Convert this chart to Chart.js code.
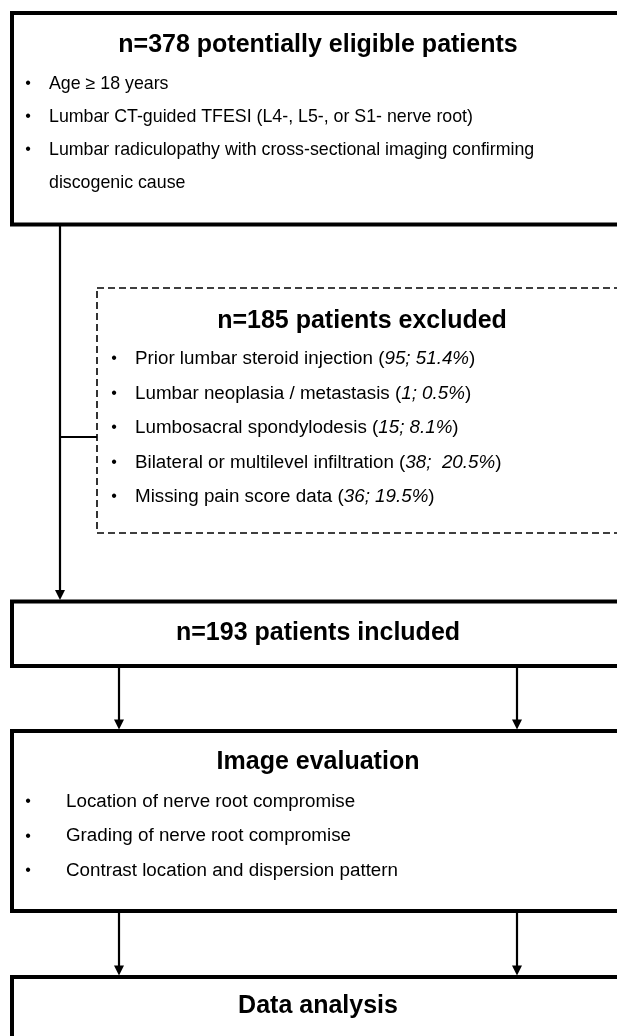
<!DOCTYPE html>
<html>
<head>
<meta charset="utf-8">
<script src="https://cdn.jsdelivr.net/npm/chart.js@4.4.0/dist/chart.umd.min.js"></script>
<style>
html, body { margin: 0; padding: 0; background: #fff; }
#wrap { width: 617px; height: 1036px; }
</style>
</head>
<body>
<div id="wrap"><canvas id="flowChart" width="617" height="1036"></canvas></div>
<script>
// --- Flow data ---
const eligibleCount = 378;
const excludedCount = 185;
const includedCount = 193;

const eligibleCriteria = [
    "Age ≥ 18 years",
    "Lumbar CT-guided TFESI (L4-, L5-, or S1- nerve root)",
    "Lumbar radiculopathy with cross-sectional imaging confirming discogenic cause"
];

const exclusionReasons = [
    "Prior lumbar steroid injection",
    "Lumbar neoplasia / metastasis",
    "Lumbosacral spondylodesis",
    "Bilateral or multilevel infiltration",
    "Missing pain score data"
];
const exclusionCounts = [95, 1, 15, 38, 36];
const exclusionPercents = ["51.4%", "0.5%", "8.1%", " 20.5%", "19.5%"];

const evaluationTitle = "Image evaluation";
const evaluationItems = [
    "Location of nerve root compromise",
    "Grading of nerve root compromise",
    "Contrast location and dispersion pattern"
];
const analysisTitle = "Data analysis";

// --- Layout (page units, mapped through the chart scales) ---
const layout = {
    eligible:  {x0: 12, x1: 624, y0: 13,    y1: 224.5, titleY: 45,  firstY: 84,  step: 33,   bulletX: 28,  textX: 49,
                size: 17.8, wrap: 560},
    excluded:  {x0: 97, x1: 627, y0: 288,   y1: 533,   titleY: 321, firstY: 359, step: 34.5, bulletX: 114, textX: 135,
                size: 18.8},
    included:  {x0: 12, x1: 624, y0: 601.5, y1: 666,   titleY: 633},
    evaluation:{x0: 12, x1: 624, y0: 731,   y1: 911,   titleY: 762, firstY: 802, step: 34.2, bulletX: 28,  textX: 66,
                size: 18.8},
    analysis:  {x0: 12, x1: 624, y0: 977,   y1: 1200,  titleY: 1006},
    mainLineX: 60,
    branchY: 437,
    splitX: [119, 517]
};

const FAMILY = "'Liberation Sans', Arial, sans-serif";
const TITLE_FONT = "bold 25px " + FAMILY;

// --- Drawing helpers ---
function drawBox(ctx, sx, sy, b, lw, dash){
    ctx.save();
    ctx.lineWidth = lw;
    ctx.strokeStyle = "#000";
    ctx.setLineDash(dash || []);
    ctx.strokeRect(sx(b.x0), sy(b.y0), sx(b.x1) - sx(b.x0), sy(b.y1) - sy(b.y0));
    ctx.restore();
}

function drawLine(ctx, x0, y0, x1, y1, lw){
    ctx.save();
    ctx.lineWidth = lw;
    ctx.strokeStyle = "#000";
    ctx.beginPath();
    ctx.moveTo(x0, y0);
    ctx.lineTo(x1, y1);
    ctx.stroke();
    ctx.restore();
}

function drawArrow(ctx, x, y0, y1){
    drawLine(ctx, x, y0, x, y1 - 8, 2.2);
    ctx.save();
    ctx.fillStyle = "#000";
    ctx.beginPath();
    ctx.moveTo(x - 5, y1 - 10);
    ctx.lineTo(x + 5, y1 - 10);
    ctx.lineTo(x, y1);
    ctx.closePath();
    ctx.fill();
    ctx.restore();
}

function drawTitle(ctx, sx, sy, b, text){
    ctx.save();
    ctx.font = TITLE_FONT;
    ctx.fillStyle = "#000";
    ctx.textAlign = "center";
    ctx.textBaseline = "middle";
    ctx.fillText(text, sx((b.x0 + b.x1) / 2), sy(b.titleY));
    ctx.restore();
}

function wrapText(ctx, text, maxWidth){
    let words = text.split(" ");
    let lines = [];
    let line = "";
    words.forEach(w => {
        let test = line ? line + " " + w : w;
        if (ctx.measureText(test).width > maxWidth && line){
            lines.push(line);
            line = w;
        } else {
            line = test;
        }
    });
    if (line) lines.push(line);
    return lines;
}

// each item is a list of [text, italic] runs
function drawBullets(ctx, sx, sy, b, items){
    let regular = b.size + "px " + FAMILY;
    let italic = "italic " + b.size + "px " + FAMILY;
    ctx.save();
    ctx.fillStyle = "#000";
    ctx.textBaseline = "middle";
    ctx.textAlign = "left";
    let row = 0;
    items.forEach(runs => {
        let y = sy(b.firstY + row * b.step);
        ctx.font = "16px " + FAMILY;
        ctx.fillText("•", sx(b.bulletX) - ctx.measureText("•").width / 2, y);
        ctx.font = regular;
        if (runs.length === 1 && b.wrap){
            let lines = wrapText(ctx, runs[0][0], b.wrap);
            lines.forEach((ln, i) => {
                ctx.fillText(ln, sx(b.textX), sy(b.firstY + (row + i) * b.step));
            });
            row += lines.length;
        } else {
            let x = sx(b.textX);
            runs.forEach(([t, isItalic]) => {
                ctx.font = isItalic ? italic : regular;
                ctx.fillText(t, x, y);
                x += ctx.measureText(t).width;
            });
            row += 1;
        }
    });
    ctx.restore();
}

// --- Flowchart plugin ---
const flowPlugin = {
    id: "flow",
    afterDraw(chart){
        let ctx = chart.ctx;
        let sx = v => chart.scales.x.getPixelForValue(v);
        let sy = v => chart.scales.y.getPixelForValue(v);
        let L = layout;

        // connectors
        drawArrow(ctx, sx(L.mainLineX), sy(L.eligible.y1), sy(L.included.y0 - 1.5));
        drawLine(ctx, sx(L.mainLineX), sy(L.branchY), sx(L.excluded.x0), sy(L.branchY), 2.2);
        L.splitX.forEach(x => {
            drawArrow(ctx, sx(x), sy(L.included.y1 + 2), sy(L.evaluation.y0 - 1.5));
            drawArrow(ctx, sx(x), sy(L.evaluation.y1 + 2), sy(L.analysis.y0 - 1.5));
        });

        // boxes
        drawBox(ctx, sx, sy, L.eligible, 4);
        drawBox(ctx, sx, sy, L.excluded, 1.6, [7, 4]);
        drawBox(ctx, sx, sy, L.included, 4);
        drawBox(ctx, sx, sy, L.evaluation, 4);
        drawBox(ctx, sx, sy, L.analysis, 4);

        // texts
        drawTitle(ctx, sx, sy, L.eligible, `n=${eligibleCount} potentially eligible patients`);
        drawBullets(ctx, sx, sy, L.eligible, eligibleCriteria.map(t => [[t, false]]));

        drawTitle(ctx, sx, sy, L.excluded, `n=${excludedCount} patients excluded`);
        drawBullets(ctx, sx, sy, L.excluded, exclusionReasons.map((r, i) => [
            [r + " (", false],
            [`${exclusionCounts[i]}; ${exclusionPercents[i]}`, true],
            [")", false]
        ]));

        drawTitle(ctx, sx, sy, L.included, `n=${includedCount} patients included`);

        drawTitle(ctx, sx, sy, L.evaluation, evaluationTitle);
        drawBullets(ctx, sx, sy, L.evaluation, evaluationItems.map(t => [[t, false]]));

        drawTitle(ctx, sx, sy, L.analysis, analysisTitle);
    }
};

// --- Chart ---
new Chart(document.getElementById("flowChart").getContext("2d"), {
    type: "scatter",
    data: { datasets: [{ data: [] }] },
    options: {
        responsive: false,
        animation: false,
        devicePixelRatio: 1,
        layout: { padding: 0 },
        scales: {
            x: { type: "linear", min: 0, max: 617, display: false },
            y: { type: "linear", min: 0, max: 1036, reverse: true, display: false }
        },
        plugins: { legend: { display: false }, tooltip: { enabled: false } }
    },
    plugins: [flowPlugin]
});
</script>
</body>
</html>
